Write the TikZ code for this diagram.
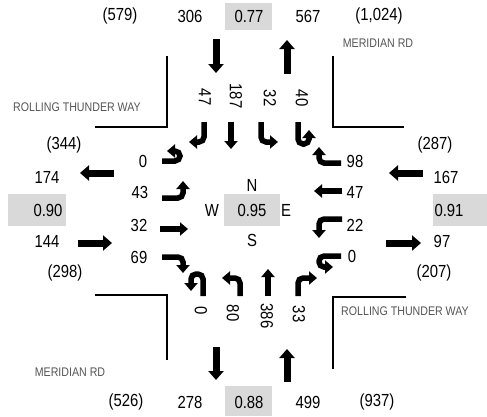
\documentclass[tikz,border=0pt]{standalone}
\usepackage{fontspec}
\setmainfont{Liberation Sans}[FakeStretch=0.85]
\usetikzlibrary{arrows.meta}
\definecolor{boxgray}{RGB}{217,217,217}
\definecolor{roadgray}{RGB}{85,85,85}
\begin{document}
\begin{tikzpicture}[x=1pt,y=-1pt,
  lbl/.style={inner sep=0pt, font=\fontsize{17.5}{20}\selectfont},
  rlbl/.style={lbl, rotate=-90},
  road/.style={inner sep=0pt, text=roadgray, font=\fontsize{12.5}{15}\selectfont},
  gbox/.style={fill=boxgray, draw=none},
  big/.style={line width=7pt, -{Triangle[width=15pt,length=9pt]}},
  turn/.style={line width=5.5pt, rounded corners=5pt, -{Triangle[width=13pt,length=8pt]}},
  corner/.style={line width=2pt, line join=miter}]
\useasboundingbox (0,0) rectangle (487,416);

% gray boxes
\fill[gbox] (225,3) rectangle (272,30);
\fill[gbox] (225,386) rectangle (272,416);
\fill[gbox] (8,194) rectangle (66,226);
\fill[gbox] (433,194) rectangle (487,226);
\fill[gbox] (224,194) rectangle (280,226);

% corner lines
\draw[corner] (95,127) -- (167,127) -- (167,56);
\draw[corner] (333,56) -- (333,127) -- (404,127);
\draw[corner] (95,295) -- (167,295) -- (167,360);
\draw[corner] (333,369) -- (333,297) -- (406,297);

% road names
\node[road] (rtwW) at (77,107) {ROLLING THUNDER WAY};
\node[road] (mrdN) at (378,43) {MERIDIAN RD};
\node[road] (rtwE) at (405,311) {ROLLING THUNDER WAY};
\node[road] (mrdS) at (70,372) {MERIDIAN RD};

% top row
\node[lbl] (t1) at (120,16) {(579)};
\node[lbl] (t2) at (190,16) {306};
\node[lbl] (t3) at (249,16) {0.77};
\node[lbl] (t4) at (308,16) {567};
\node[lbl] (t5) at (379,16) {(1,024)};
% bottom row
\node[lbl] (b1) at (126,402) {(526)};
\node[lbl] (b2) at (190,402) {278};
\node[lbl] (b3) at (249,402) {0.88};
\node[lbl] (b4) at (308,402) {499};
\node[lbl] (b5) at (377,402) {(937)};
% left column
\node[lbl] (l1) at (64,145) {(344)};
\node[lbl] (l2) at (47,177) {174};
\node[lbl] (l3) at (48,210) {0.90};
\node[lbl] (l4) at (47,241) {144};
\node[lbl] (l5) at (65,273) {(298)};
% right column
\node[lbl] (r1) at (435,145) {(287)};
\node[lbl] (r2) at (446,177) {167};
\node[lbl] (r3) at (449,210) {0.91};
\node[lbl] (r4) at (442,241) {97};
\node[lbl] (r5) at (434,273) {(207)};
% inner left
\node[lbl] (il1) at (143,161) {0};
\node[lbl] (il2) at (140,192) {43};
\node[lbl] (il3) at (139,225) {32};
\node[lbl] (il4) at (139,257) {69};
% inner right
\node[lbl] (ir1) at (355,161) {98};
\node[lbl] (ir2) at (355,192) {47};
\node[lbl] (ir3) at (355,225) {22};
\node[lbl] (ir4) at (352,256) {0};
% inner top (rotated)
\node[rlbl] (it1) at (205,97) {47};
\node[rlbl] (it2) at (236,96) {187};
\node[rlbl] (it3) at (270,98) {32};
\node[rlbl] (it4) at (302,98) {40};
% inner bottom (rotated)
\node[rlbl] (ib1) at (201,311) {0};
\node[rlbl] (ib2) at (233,313) {80};
\node[rlbl] (ib3) at (267,316) {386};
\node[rlbl] (ib4) at (299,314) {33};
% center
\node[lbl] (cN) at (252,185) {N};
\node[lbl] (cW) at (212,210) {W};
\node[lbl] (cC) at (252,210) {0.95};
\node[lbl] (cE) at (286,210) {E};
\node[lbl] (cS) at (252,240) {S};

% approach arrows
\draw[big] (216,39) -- (216,73);
\draw[big] (287,74) -- (287,40);
\draw[big] (216,347) -- (216,380);
\draw[big] (287,382) -- (287,349);
\draw[big] (114,173) -- (80,173);
\draw[big] (78,243) -- (112,243);
\draw[big] (423,173) -- (389,173);
\draw[big] (386,243) -- (421,243);

% west movements
\draw[turn] (162,161) -- (180,161) -- (180,151) -- (167,151);
\draw[turn] (162,198) -- (183,198) -- (183,181);
\draw[turn] (160,229) -- (188,229);
\draw[turn] (162,257) -- (183,257) -- (183,273);
% east movements
\draw[turn] (341,163) -- (319,163) -- (319,147);
\draw[turn] (342,191) -- (314,191);
\draw[turn] (342,219) -- (319,219) -- (319,238);
\draw[turn] (341,256) -- (319,256) -- (319,267) -- (333,267);
% north movements
\draw[turn] (204,122) -- (204,142) -- (189,142);
\draw[turn] (231,122) -- (231,149);
\draw[turn] (261,122) -- (261,142) -- (278,142);
\draw[turn] (298,122) -- (298,144) -- (309,144) -- (309,130);
% south movements
\draw[turn] (203,296) -- (203,274) -- (191,274) -- (191,291);
\draw[turn] (240,296) -- (240,278) -- (222,278);
\draw[turn] (268,296) -- (268,269);
\draw[turn] (298,296) -- (298,278) -- (317,278);
\end{tikzpicture}
\end{document}
